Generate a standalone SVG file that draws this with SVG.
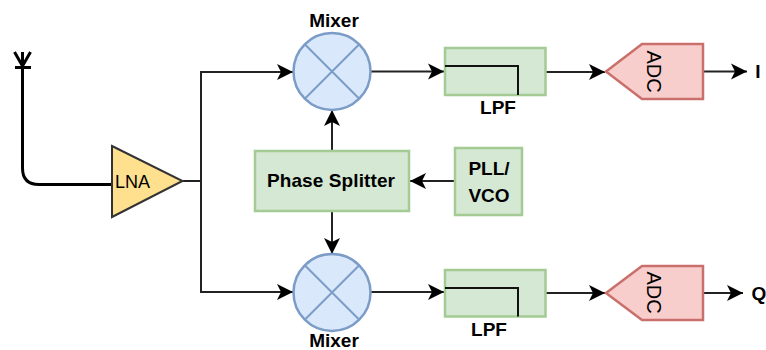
<svg xmlns="http://www.w3.org/2000/svg" width="766" height="350" viewBox="0 0 766 350">
<style>
text{font-family:"Liberation Sans",Arial,sans-serif;font-size:19px;fill:#000;text-anchor:middle}
.b{font-weight:bold}
.g{fill:#d5e8d4;stroke:#a3cb93;stroke-width:2.5}
.m{fill:#dae8fc;stroke:#7c9cc8;stroke-width:2.5}
.x{fill:none;stroke:#7c9cc8;stroke-width:2}
.r{fill:#f8cecc;stroke:#c9706c;stroke-width:2.5}
.c{fill:none;stroke:#222;stroke-width:2}
.k{fill:none;stroke:#111;stroke-width:2}
.a{fill:none;stroke:#000;stroke-width:3}
</style>
<defs>
<marker id="ah" markerUnits="userSpaceOnUse" markerWidth="17" markerHeight="18" refX="16" refY="9" orient="auto">
<path d="M0 1L16 9L0 17L4 9Z" fill="#000"/>
</marker>
</defs>
<g id="connectors">
<path class="c" d="M182 181H201V72H293" marker-end="url(#ah)"/>
<path class="c" d="M201 181V292H293" marker-end="url(#ah)"/>
<path class="a" d="M22.5 66V168Q22.5 184.500 39 184.500H112"/>
<path class="c" d="M371 71.500H444" marker-end="url(#ah)"/>
<path class="c" d="M371 292H444" marker-end="url(#ah)"/>
<path class="c" d="M545 72H605" marker-end="url(#ah)"/>
<path class="c" d="M545 293H605" marker-end="url(#ah)"/>
<path class="c" d="M703 71.500H747" marker-end="url(#ah)"/>
<path class="c" d="M703 293H743" marker-end="url(#ah)"/>
<path class="c" d="M332 151V110" marker-end="url(#ah)"/>
<path class="c" d="M332 211V254" marker-end="url(#ah)"/>
<path class="c" d="M455 181H410" marker-end="url(#ah)"/>
</g>
<g id="antenna">
<path class="a" d="M14.500 52L22.500 66L30.500 52M22.500 52V66M15 67.500H31"/>
</g>
<g id="lna">
<path d="M112 146L182.500 181L112 217Z" fill="#ffe08f" stroke="#333" stroke-width="2"/>
<text x="132.500" y="188" style="font-size:18px">LNA</text>
</g>
<g id="mixer-top">
<circle class="m" cx="332" cy="71.500" r="38.500"/>
<path class="x" d="M305 44.500L359 98.500M359 44.500L305 98.500"/>
<text class="b" x="334" y="27">Mixer</text>
</g>
<g id="mixer-bottom">
<circle class="m" cx="332" cy="292.500" r="38.500"/>
<path class="x" d="M305 265.500L359 319.500M359 265.500L305 319.500"/>
<text class="b" x="334" y="347">Mixer</text>
</g>
<g id="lpf-top">
<rect class="g" x="445" y="48" width="100.500" height="47"/>
<path class="k" d="M445 66H518V95"/>
<text class="b" x="498" y="114">LPF</text>
</g>
<g id="lpf-bottom">
<rect class="g" x="445" y="270" width="100.500" height="46.500"/>
<path class="k" d="M445 288H518V316.500"/>
<text class="b" x="489" y="336">LPF</text>
</g>
<g id="phase-splitter">
<rect class="g" x="255" y="151" width="154" height="60"/>
<text class="b" x="331" y="187" style="letter-spacing:.1px">Phase Splitter</text>
</g>
<g id="pll-vco">
<rect class="g" x="455" y="148" width="67" height="67"/>
<text class="b" x="489" y="175">PLL/</text>
<text class="b" x="489" y="202">VCO</text>
</g>
<g id="adc-top">
<path class="r" d="M606 71.500L642 44H703V99H642Z"/>
<text transform="translate(647 71.500) rotate(90)" style="font-size:20px">ADC</text>
</g>
<g id="adc-bottom">
<path class="r" d="M606 293L642 266H703V320H642Z"/>
<text transform="translate(647 292.500) rotate(90)" style="font-size:20px">ADC</text>
</g>
<g id="outputs">
<text class="b" x="758" y="78">I</text>
<text class="b" x="759" y="300">Q</text>
</g>
</svg>
